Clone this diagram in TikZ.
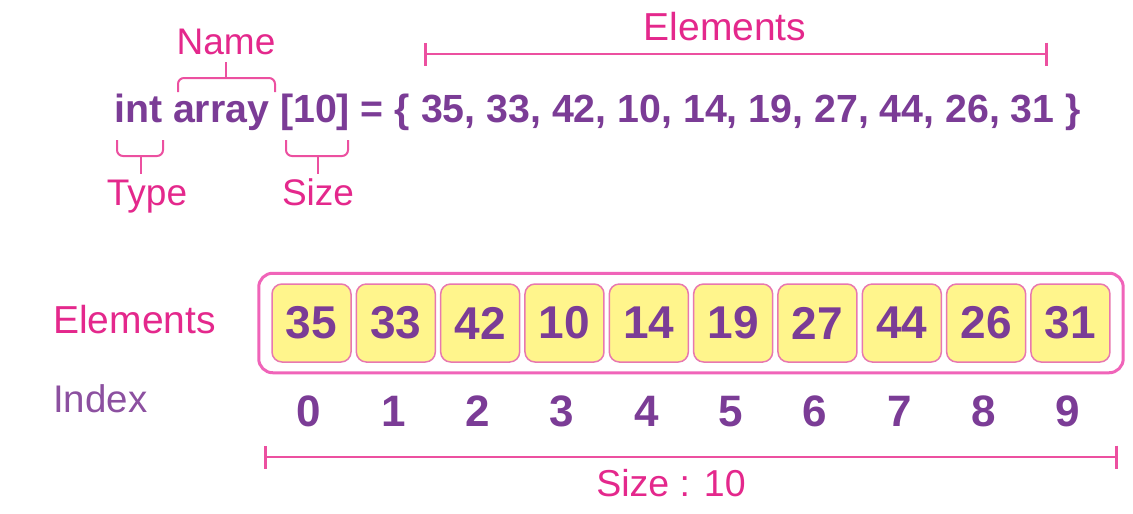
\documentclass[tikz,border=0pt]{standalone}
\usepackage{fontspec}
\setmainfont{Liberation Sans}
\usetikzlibrary{arrows.meta,fit}
\definecolor{purp}{RGB}{123,60,150}
\definecolor{idxpurp}{RGB}{140,80,160}
\definecolor{pinktxt}{RGB}{228,40,140}
\definecolor{pinkline}{RGB}{236,80,160}
\definecolor{boxpink}{RGB}{240,100,185}
\definecolor{cellfill}{RGB}{255,245,140}
\definecolor{cellline}{RGB}{232,120,175}
\begin{document}
\begin{tikzpicture}[x=1pt,y=-1pt,
  lbl/.style={inner sep=0,text=pinktxt,font=\fontsize{37}{38}\selectfont,anchor=base},
  biglbl/.style={inner sep=0,text=pinktxt,font=\fontsize{39}{40}\selectfont,anchor=base},
  code/.style={inner sep=0,text=purp,font=\fontsize{39.3}{40}\selectfont\bfseries,anchor=base west},
  cell/.style={draw=cellline,fill=cellfill,line width=1.5pt,rounded corners=10pt,
    minimum width=79pt,minimum height=78pt,inner sep=0,text=purp,
    font=\fontsize{46}{47}\selectfont\bfseries},
  outerbox/.style={draw=boxpink,line width=3pt,rounded corners=14pt,inner xsep=12.5pt,inner ysep=10pt},
  idx/.style={inner sep=0,text=purp,font=\fontsize{44}{45}\selectfont\bfseries,anchor=base},
  brk/.style={draw=pinkline,line width=2pt,rounded corners=6pt},
  span/.style={draw=pinkline,line width=2.2pt,{Bar[width=23pt,line width=2.6pt]}-{Bar[width=23pt,line width=2.6pt]}}
]
\useasboundingbox (0,0) rectangle (1133,514);
\fill[white] (0,0) rectangle (1133,514);

% code line
\node[code] (codeline) at (114,122) {int array [10] = \{ 35, 33, 42, 10, 14, 19, 27, 44, 26, 31 \}};

% labels
\node[lbl] (name) at (226,54) {Name};
\node[lbl] (type) at (147,205) {Type};
\node[lbl] (size) at (318,205) {Size};
\node[biglbl] (elemtop) at (725,40) {Elements};

% name bracket
\coordinate (nL) at (178,92);
\coordinate (nR) at (275,92);
\coordinate (nM) at (226,78);
\coordinate (nT) at (226,62);
\draw[brk] (nL) |- (nM) -| (nR);
\draw[brk] (nM) -- (nT);

% type bracket
\coordinate (tL) at (117,140);
\coordinate (tR) at (163,140);
\coordinate (tM) at (141,156);
\coordinate (tB) at (141,174);
\draw[brk] (tL) |- (tM) -| (tR);
\draw[brk] (tM) -- (tB);

% size bracket
\coordinate (sL) at (286,140);
\coordinate (sR) at (348,140);
\coordinate (sM) at (318,156);
\coordinate (sB) at (318,174);
\draw[brk] (sL) |- (sM) -| (sR);
\draw[brk] (sM) -- (sB);

% elements span
\coordinate (eL) at (424,54);
\coordinate (eR) at (1048,54);
\draw[span] (eL) -- (eR);

% left labels
\node[biglbl,anchor=base west] (elemleft) at (53,333) {Elements};
\node[inner sep=0,text=idxpurp,font=\fontsize{38.5}{40}\selectfont,anchor=base west] (index) at (53,412) {Index};

% cells
\foreach \v [count=\i from 0] in {35,33,42,10,14,19,27,44,26,31} {
  \node[cell] (c\i) at ({311.5+84.33*\i},323) {\v};
  \node[idx] (i\i) at ({309+84.33*\i},426) {\i};
}
\node[outerbox,fit=(c0)(c9)] (arr) {};

% size span
\coordinate (bL) at (264,457);
\coordinate (bR) at (1118,457);
\draw[span] (bL) -- (bR);
\node[biglbl,font=\fontsize{37.5}{38}\selectfont] (sizeten) at (671,496) {Size : 10};
\end{tikzpicture}
\end{document}
